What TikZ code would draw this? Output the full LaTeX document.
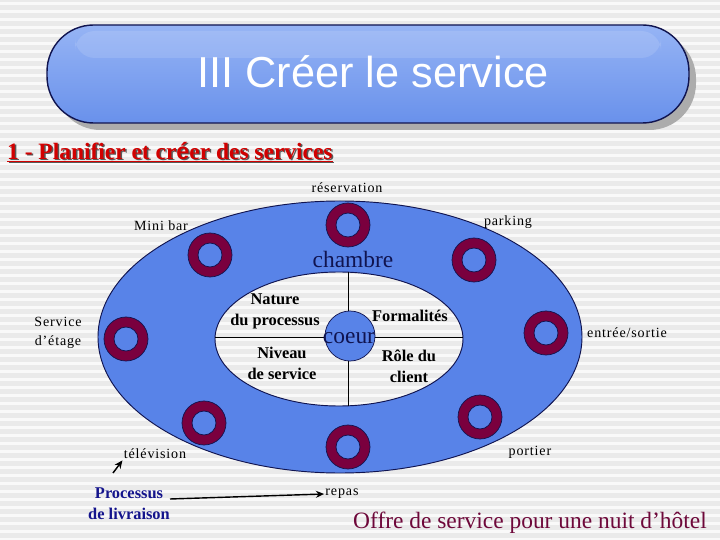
\documentclass[tikz,border=0pt]{standalone}
\usepackage{fontspec}
\setmainfont{Liberation Serif}
\setsansfont{Liberation Sans}
\newfontfamily\etiqfont[LetterSpace=6]{Liberation Serif}
\usetikzlibrary{arrows.meta}

\definecolor{fondgris}{RGB}{234,234,234}
\definecolor{bleuhotel}{RGB}{88,131,232}
\definecolor{bordeaux}{RGB}{122,0,62}
\definecolor{marine}{RGB}{16,20,80}
\definecolor{rougetitre}{RGB}{210,0,0}
\definecolor{bleulivraison}{RGB}{20,20,140}
\definecolor{vinoffre}{RGB}{110,8,58}
\definecolor{bandeauhaut}{RGB}{150,180,245}
\definecolor{bandeaumilieu}{RGB}{68,105,205}
\definecolor{bandeaubas}{RGB}{105,145,235}

\tikzset{
  etiq/.style={font=\etiqfont\fontsize{12}{16}\selectfont, align=center, inner sep=1pt},
  quartier/.style={font=\bfseries\fontsize{14}{18}\selectfont, align=center, inner sep=0pt},
  anneau/.style={fill=bordeaux, draw=marine, line width=0.6pt, even odd rule},
  fleche/.style={line width=1.2pt, -{Stealth[length=7pt,width=6pt]}}
}
% un anneau : centre
\newcommand{\anneau}[1]{\filldraw[anneau] (#1) circle (22) circle (12);}

\begin{document}
\begin{tikzpicture}[x=0.03cm, y=-0.03cm]
    \useasboundingbox (0,0) rectangle (720,540);
    % fond raye
    \fill[fondgris] (0,0) rectangle (720,540);
    \foreach \ry in {2,10,...,538}
        \fill[white!70!fondgris] (0,\ry) rectangle (720,\ry+3);

    % bandeau du titre
    \fill[gray!65, rounded corners=1.4cm] (54,32) rectangle (696,130);
    \shade[top color=bandeauhaut, middle color=bandeaumilieu,
           bottom color=bandeaubas, rounded corners=1.4cm,
           draw=marine, line width=1.2pt] (47,25) rectangle (689,123);
    \fill[white, opacity=0.12, rounded corners=0.6cm] (75,31) rectangle (661,58);
    \node[font=\sffamily\fontsize{37}{40}\selectfont, text=white] (titre) at (373,72) {III Créer le service};

    % sous-titre
    \node[anchor=west, font=\bfseries\fontsize{20}{22}\selectfont, text=gray!70!black, inner sep=0pt]
        (soustitreombre) at (8.5,153.5) {\underline{1 - Planifier et cr{\sffamily é}er des services}};
    \node[anchor=west, font=\bfseries\fontsize{20}{22}\selectfont, text=rougetitre, inner sep=0pt]
        (soustitre) at (7,152) {\underline{1 - Planifier et cr{\sffamily é}er des services}};

    % les deux ellipses
    \filldraw[fill=bleuhotel, draw=marine, line width=0.8pt, even odd rule]
        (340,337) ellipse (242 and 136) (339,339) ellipse (124 and 67);
    \begin{scope}
        \clip (339,339) ellipse (124 and 67);
        \draw[line width=0.8pt] (348,260) -- (348,420);
        \draw[line width=0.8pt] (200,337) -- (480,337);
    \end{scope}
    \filldraw[fill=bleuhotel, draw=marine, line width=0.6pt] (350,336) circle (25);

    % anneaux des services
    \anneau{348,225}
    \anneau{474,260}
    \anneau{210,255}
    \anneau{126,339}
    \anneau{546,333}
    \anneau{480,417}
    \anneau{204,423}
    \anneau{348,447}

    % textes
    \node[font=\fontsize{20}{22}\selectfont, text=marine, inner sep=0pt] (chambre) at (353,259) {chambre};
    \node[font=\fontsize{20}{22}\selectfont, text=marine, inner sep=0pt] (coeur) at (349,338) {coeur};
    \node[quartier] (nature) at (275,311) {Nature\\du processus};
    \node[quartier] (formalites) at (410,316) {Formalités};
    \node[quartier] (niveau) at (282,363) {Niveau\\de service};
    \node[quartier] (role) at (409,366) {Rôle du\\client};

    \node[etiq] (reservation) at (347,188) {réservation};
    \node[etiq] (parking) at (508,222) {parking};
    \node[etiq] (minibar) at (161,226) {Mini bar};
    \node[etiq] (etage) at (58,333) {Service\\d’étage};
    \node[etiq] (entree) at (627,333) {entrée/sortie};
    \node[etiq] (portier) at (530,452) {portier};
    \node[etiq] (tele) at (155,454) {télévision};
    \node[etiq] (repas) at (342,494) {repas};

    \node[quartier, text=bleulivraison] (livraison) at (129,504) {Processus\\de livraison};
    \node[font=\fontsize{20}{22}\selectfont, text=vinoffre, inner sep=0pt] (offre) at (530,523)
        {Offre de service pour une nuit d’hôtel};

    % fleches
    \coordinate (livraisonfin) at (170,499);
    \coordinate (telepied) at (113,473);
    \draw[fleche] (livraisonfin) -- (repas.west);
    \draw[fleche] (telepied) -- (tele.south west);
\end{tikzpicture}
\end{document}
